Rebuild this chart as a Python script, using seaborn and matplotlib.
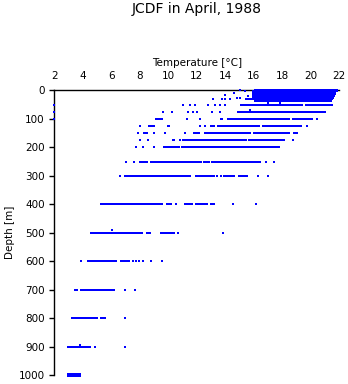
import numpy as np
import pandas as pd
import matplotlib
matplotlib.use("Agg")
import matplotlib.pyplot as plt
import seaborn as sns

# ---- data ----
# continuous runs of observations: depth [m], start temp, end temp [°C]
seg_depth = [0, 4, 8, 12, 16, 20, 24, 28, 32, 36,
             50, 50,
             75,
             100, 100, 100, 100,
             125, 125, 125, 125, 125,
             150, 150, 150, 150, 150,
             175, 175, 175,
             200, 200,
             250, 250, 250, 250,
             300, 300, 300, 300,
             400, 400, 400, 400, 400,
             500, 500, 500,
             600, 600,
             700, 700,
             800, 800,
             900,
             997, 1000, 1003]
seg_start = [16.0, 15.9, 15.9, 15.85, 15.85, 15.85, 15.85, 15.85, 15.4, 16.0,
             15.03, 19.6,
             14.8,
             9.07, 13.63, 14.1, 18.66,
             8.6, 9.89, 12.92, 13.4, 16.56,
             8.25, 11.75, 12.5, 15.97, 18.77,
             10.24, 10.94, 15.6,
             9.65, 10.89,
             7.96, 8.72, 12.46, 13.0,
             6.89, 11.87, 13.86, 14.91,
             5.21, 9.82, 11.1, 11.87, 12.93,
             4.51, 8.44, 9.42,
             4.32, 6.61,
             3.38, 3.8,
             3.17, 5.21,
             2.92,
             2.92, 2.92, 2.92]
seg_end = [21.9, 21.9, 21.8, 21.8, 21.7, 21.7, 21.65, 21.6, 21.55, 21.5,
           19.47, 21.58,
           21.1,
           9.65, 13.86, 18.54, 20.18,
           9.07, 10.12, 13.28, 16.44, 19.36,
           8.6, 12.22, 15.8, 18.54, 19.1,
           10.47, 15.5, 18.2,
           10.82, 17.84,
           8.6, 12.34, 12.93, 16.5,
           11.57, 13.28, 14.68, 15.61,
           9.65, 10.24, 11.71, 12.8, 13.28,
           8.25, 8.77, 10.47,
           6.38, 7.31,
           3.69, 6.26,
           5.09, 5.63,
           4.55,
           3.85, 3.85, 3.85]

# isolated observations
pt_depth = [0, 4, 8, 16, 30, 30, 30, 30, 28, 28, 20, 44, 46,
            50, 50, 50, 50, 50, 50, 50, 50,
            75, 75, 75, 75, 75, 75, 75, 75, 70,
            100, 100, 100, 100,
            125, 125, 125, 125,
            150, 150, 150, 150,
            175, 175, 175, 175,
            200, 200, 200,
            250, 250, 250, 250,
            300, 300, 300, 300, 300,
            400, 400, 400,
            500, 500, 490,
            600, 600, 600, 600, 600, 600, 600,
            700, 700,
            800,
            900, 900, 893]
pt_temp = [15.03, 15.4, 14.6, 13.98, 13.16, 13.75, 14.0, 14.33, 14.8, 15.0, 15.6, 17.0, 17.84,
           2.0, 11.05, 11.52, 11.87, 12.8, 13.28, 13.63, 13.98,
           2.0, 9.65, 10.24, 11.4, 11.75, 11.99, 13.04, 13.63, 15.73,
           2.0, 11.29, 12.22, 20.4,
           8.01, 12.22, 12.57, 19.71,
           7.9, 9.0, 9.77, 11.17,
           8.01, 8.6, 10.82, 18.73,
           7.73, 8.2, 8.99,
           7.03, 7.61, 16.86, 17.42,
           6.61, 13.4, 13.68, 16.27, 17.02,
           10.54, 14.52, 16.13,
           10.66, 13.86, 6.07,
           3.87, 7.5, 7.73, 7.96, 8.25, 8.79, 9.54,
           6.98, 7.68,
           6.98,
           4.86, 6.98, 3.83]

x_ticks = [2, 4, 6, 8, 10, 12, 14, 16, 18, 20, 22]
y_ticks = [0, 100, 200, 300, 400, 500, 600, 700, 800, 900, 1000]

# ---- tables ----
seg_df = pd.DataFrame({
    "unit": np.repeat(np.arange(len(seg_depth)), 2),
    "temp": np.column_stack([seg_start, seg_end]).ravel(),
    "depth": np.repeat(seg_depth, 2),
})
pt_df = pd.DataFrame({"temp": pt_temp, "depth": pt_depth})

BLUE = "#0000ff"
plt.rcParams["font.family"] = ["DejaVu Sans"]

fig = plt.figure(figsize=(3.48, 3.84), dpi=100)
ax = fig.add_axes([54.3 / 348, 1 - 375.3 / 384, 285 / 348, 285 / 384])

sns.lineplot(data=seg_df, x="temp", y="depth", units="unit", estimator=None,
             color=BLUE, linewidth=1.1, ax=ax, clip_on=False, antialiased=False,
             solid_capstyle="butt", zorder=3)
sns.scatterplot(data=pt_df, x="temp", y="depth", color=BLUE, marker="s",
                s=3.5, linewidth=0, ax=ax, clip_on=False, zorder=4)

ax.set_xlim(2, 22)
ax.set_ylim(1000, 0)
ax.set_xticks(x_ticks)
ax.set_yticks(y_ticks)
ax.xaxis.tick_top()
ax.xaxis.set_label_position("top")
sns.despine(ax=ax, top=False, right=True, bottom=True, left=False)
for s in ("top", "left"):
    ax.spines[s].set_linewidth(1.0)
    ax.spines[s].set_color("black")
ax.tick_params(axis="x", direction="out", length=4.5, width=1.0, pad=2.0, labelsize=7.5)
ax.tick_params(axis="y", direction="out", length=3.8, width=1.0, pad=3.0, labelsize=7.5)
ax.set_xlabel("Temperature [°C]", fontsize=7.5, labelpad=4)
ax.set_ylabel("Depth [m]", fontsize=7.5, labelpad=3)
ax.set_facecolor("white")
fig.patch.set_facecolor("white")

fig.text(196.7 / 348, 1 - 8.5 / 384, "JCDF in April, 1988", ha="center", va="center",
         fontsize=10)

fig.savefig("out.png", dpi=100, facecolor="white")
